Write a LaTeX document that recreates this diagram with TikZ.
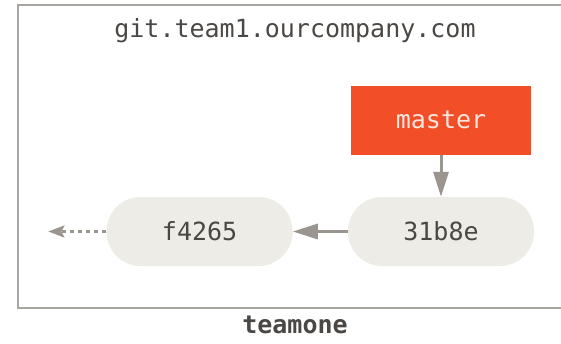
\documentclass[tikz,border=0pt]{standalone}
\usepackage{fontspec}
\setmonofont{DejaVu Sans Mono}
\usepackage{tikz}
\usetikzlibrary{arrows.meta,positioning}
\definecolor{gitRojo}{HTML}{F24F29}
\definecolor{gitRojoTxt}{HTML}{FBE6DE}
\definecolor{gitCommit}{HTML}{EDECE6}
\definecolor{gitGris}{HTML}{9A958E}
\definecolor{gitMarco}{HTML}{A8A49F}
\definecolor{gitTexto}{HTML}{4A4744}
\tikzset{
  servidor/.style={draw=gitMarco, line width=2pt, minimum width=562pt, minimum height=303pt},
  etiqueta/.style={font=\ttfamily\fontsize{25}{30}\selectfont, text=gitTexto, inner sep=0pt},
  commit/.style={fill=gitCommit, rounded corners=34pt, minimum width=186pt, minimum height=69pt, font=\ttfamily\fontsize{25}{30}\selectfont, text=gitTexto},
  rama/.style={fill=gitRojo, minimum width=180pt, minimum height=69pt, font=\ttfamily\fontsize{25}{30}\selectfont, text=gitRojoTxt},
  arrflow/.style={-{Triangle[length=25pt,width=15pt]}, line width=3pt, draw=gitGris},
  arrprev/.style={-{Stealth[length=16pt,width=12pt,inset=3pt]}, line width=2.5pt, draw=gitGris, dash pattern=on 4pt off 4pt},
}
\begin{document}
\begin{tikzpicture}[x=1pt,y=-1pt]
\useasboundingbox (0,0) rectangle (561,343);
\clip (0,0) rectangle (561,343);
\fill[white] (0,0) rectangle (561,343);

\node[servidor] (server) at (299,156.5) {};
\node[etiqueta] (titulo) at (295,31) {git.team1.ourcompany.com};

\node[commit] (c31b8e) at (441,231.5) {31b8e};
\node[commit, left=55pt of c31b8e] (f4265) {f4265};
\node[rama, above=42pt of c31b8e] (master) {master};
\coordinate[left=58pt of f4265.west] (previo);

\draw[arrflow] (master) -- (c31b8e);
\draw[arrflow] (c31b8e) -- (f4265);
\draw[arrprev] (f4265) -- (previo);

\node[etiqueta, font=\ttfamily\bfseries\fontsize{25}{30}\selectfont, below=7pt of server.south -| titulo] (equipo) {teamone};
\end{tikzpicture}
\end{document}
